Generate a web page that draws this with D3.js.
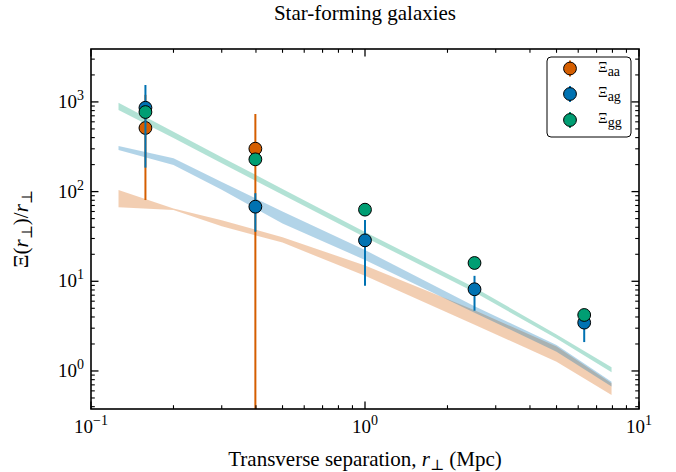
<!DOCTYPE html>
<html><head><meta charset="utf-8">
<script src="https://cdn.jsdelivr.net/npm/d3@7"></script>
<style>
body{margin:0;background:#fff}
svg{display:block}
text{font-family:"Liberation Serif","DejaVu Serif",serif;fill:#000}
</style>
</head><body>
<svg id="c" width="676" height="472"></svg>
<script>
// ---- data ----
const rPts = [0.158, 0.398, 1.0, 2.51, 6.31];
const aaVal = [512, 301, null, null, null];
const aaLo  = [80.5, 0.01, null, null, null];
const aaHi  = [1200, 733, null, null, null];
const agVal = [861, 67.9, 28.6, 8.15, 3.46];
const agLo  = [185, 35.7, 8.93, 4.7, 2.1];
const agHi  = [1543, 96, 48.2, 11.5, 4.6];
const ggVal = [771, 229, 62.9, 16.0, 4.21];
const ggLo  = [700, 210, 58, 14.8, 3.9];
const ggHi  = [840, 250, 68, 17.3, 4.55];

const rBand    = [0.126, 0.2, 0.3, 0.5, 1.0, 2.5, 5.0, 7.94];
const aaBandLo = [66.8, 62.4, 41, 27, 11.5, 3.3, 1.27, 0.54];
const aaBandHi = [104, 65, 48, 31, 15, 4.8, 1.87, 0.73];
const agBandLo = [291, 198, 105, 44, 17.3, 4.5, 1.64, 0.67];
const agBandHi = [322, 235, 128, 60, 22.3, 5.3, 1.95, 0.76];
const ggBandLo = [813, 395, 207, 92, 31, 7.6, 2.3, 0.97];
const ggBandHi = [981, 465, 242, 107, 35.5, 8.6, 2.55, 1.1];

const xMajor = [0.1, 1, 10];
const xMajorExp = ["−1", "0", "1"];
const yMajor = [1, 10, 100, 1000];
const yMajorExp = ["0", "1", "2", "3"];

const colors = {aa: "#d55e00", ag: "#0072b2", gg: "#009e73"};

// ---- layout ----
const L = 91, R = 639, T = 49, B = 409;
const svg = d3.select("#c");
const x = d3.scaleLog().domain([0.1, 10]).range([L, R]);
const y = d3.scaleLog().domain([Math.pow(10, -0.424), Math.pow(10, 3.59)]).range([B, T]);

svg.append("defs").append("clipPath").attr("id", "clip")
  .append("rect").attr("x", L).attr("y", T).attr("width", R - L).attr("height", B - T);

const plot = svg.append("g").attr("clip-path", "url(#clip)");

// bands
const bands = [
  {lo: aaBandLo, hi: aaBandHi, c: colors.aa},
  {lo: agBandLo, hi: agBandHi, c: colors.ag},
  {lo: ggBandLo, hi: ggBandHi, c: colors.gg}
];
const area = d3.area().x(d => x(d.r)).y0(d => y(d.lo)).y1(d => y(d.hi));
bands.forEach(b => {
  const pts = rBand.map((r, i) => ({r, lo: b.lo[i], hi: b.hi[i]}));
  plot.append("path").attr("d", area(pts)).attr("fill", b.c).attr("fill-opacity", 0.3).attr("stroke", "none");
});

// error bars + markers
const series = [
  {v: aaVal, lo: aaLo, hi: aaHi, c: colors.aa},
  {v: agVal, lo: agLo, hi: agHi, c: colors.ag},
  {v: ggVal, lo: ggLo, hi: ggHi, c: colors.gg}
];
series.forEach(s => {
  const pts = rPts.map((r, i) => ({r, v: s.v[i], lo: s.lo[i], hi: s.hi[i]})).filter(d => d.v != null);
  plot.selectAll(null).data(pts).enter().append("line")
    .attr("x1", d => x(d.r)).attr("x2", d => x(d.r))
    .attr("y1", d => y(d.lo)).attr("y2", d => y(d.hi))
    .attr("stroke", s.c).attr("stroke-width", 2);
  plot.selectAll(null).data(pts).enter().append("circle")
    .attr("cx", d => x(d.r)).attr("cy", d => y(d.v)).attr("r", 6.4)
    .attr("fill", s.c).attr("stroke", "#000").attr("stroke-width", 1);
});

// ---- axes ----
const ax = svg.append("g");
function minorTicks(lo, hi) {
  const out = [];
  for (let e = Math.floor(Math.log10(lo)); e <= Math.ceil(Math.log10(hi)); e++) {
    for (let m = 2; m <= 9; m++) {
      const v = m * Math.pow(10, e);
      if (v > lo && v < hi) out.push(v);
    }
  }
  return out;
}
const xD = x.domain(), yD = y.domain();
const xMin = minorTicks(xD[0], xD[1]);
const yMin = minorTicks(yD[0], yD[1]);
const yMaj = yMajor.filter(v => v >= yD[0] && v <= yD[1]);
const MJ = 7.5, MN = 3.8;
function tick(x1, y1, x2, y2, w) {
  ax.append("line").attr("x1", x1).attr("y1", y1).attr("x2", x2).attr("y2", y2)
    .attr("stroke", "#000").attr("stroke-width", w);
}
xMajor.forEach(v => { tick(x(v), B, x(v), B - MJ, 1.3); tick(x(v), T, x(v), T + MJ, 1.3); });
xMin.forEach(v => { tick(x(v), B, x(v), B - MN, 1.1); tick(x(v), T, x(v), T + MN, 1.1); });
yMaj.forEach(v => { tick(L, y(v), L + MJ, y(v), 1.3); tick(R, y(v), R - MJ, y(v), 1.3); });
yMin.forEach(v => { tick(L, y(v), L + MN, y(v), 1.1); tick(R, y(v), R - MN, y(v), 1.1); });

ax.append("rect").attr("x", L).attr("y", T).attr("width", R - L).attr("height", B - T)
  .attr("fill", "none").attr("stroke", "#000").attr("stroke-width", 1.6);

// tick labels
xMajor.forEach((v, i) => {
  const t = svg.append("text").attr("x", x(v)).attr("y", B + 24).attr("text-anchor", "middle").style("font-size", "19px");
  t.append("tspan").text("10");
  t.append("tspan").attr("dy", -8).style("font-size", "14px").text(xMajorExp[i]);
});
yMajor.forEach((v, i) => {
  const t = svg.append("text").attr("x", L - 7).attr("y", y(v) + 6).attr("text-anchor", "end").style("font-size", "19px");
  t.append("tspan").text("10");
  t.append("tspan").attr("dy", -8).style("font-size", "14px").text(yMajorExp[i]);
});

// title
svg.append("text").attr("x", (L + R) / 2).attr("y", 20).attr("text-anchor", "middle")
  .style("font-size", "21px").text("Star-forming galaxies");

// x label
const xl = svg.append("text").attr("x", (L + R) / 2).attr("y", 466).attr("text-anchor", "middle").style("font-size", "21px");
xl.append("tspan").text("Transverse separation, ");
xl.append("tspan").style("font-style", "italic").text("r");
xl.append("tspan").attr("dy", 4).style("font-size", "15px").text("⊥");
xl.append("tspan").attr("dy", -4).text(" (Mpc)");

// y label
const yl = svg.append("text").attr("transform", `translate(28,${(T + B) / 2}) rotate(-90)`)
  .attr("text-anchor", "middle").style("font-size", "21px");
yl.append("tspan").text("Ξ(");
yl.append("tspan").style("font-style", "italic").text("r");
yl.append("tspan").attr("dy", 4).style("font-size", "15px").text("⊥");
yl.append("tspan").attr("dy", -4).text(")/");
yl.append("tspan").style("font-style", "italic").text("r");
yl.append("tspan").attr("dy", 4).style("font-size", "15px").text("⊥");

// legend
const lg = svg.append("g");
lg.append("rect").attr("x", 547).attr("y", 57).attr("width", 84).attr("height", 80).attr("rx", 4)
  .attr("fill", "#fff").attr("stroke", "#000").attr("stroke-width", 1);
const legItems = [
  {c: colors.aa, sub: "aa", cy: 68.5},
  {c: colors.ag, sub: "ag", cy: 94},
  {c: colors.gg, sub: "gg", cy: 120}
];
legItems.forEach(d => {
  lg.append("line").attr("x1", 570).attr("x2", 570).attr("y1", d.cy - 8).attr("y2", d.cy + 8)
    .attr("stroke", d.c).attr("stroke-width", 2);
  lg.append("circle").attr("cx", 570).attr("cy", d.cy).attr("r", 6.4)
    .attr("fill", d.c).attr("stroke", "#000").attr("stroke-width", 1);
  const t = lg.append("text").attr("x", 598).attr("y", d.cy + 3).style("font-size", "15px");
  t.append("tspan").text("Ξ");
  t.append("tspan").attr("dy", 4).style("font-size", "14px").text(d.sub);
});
</script>
</body></html>
